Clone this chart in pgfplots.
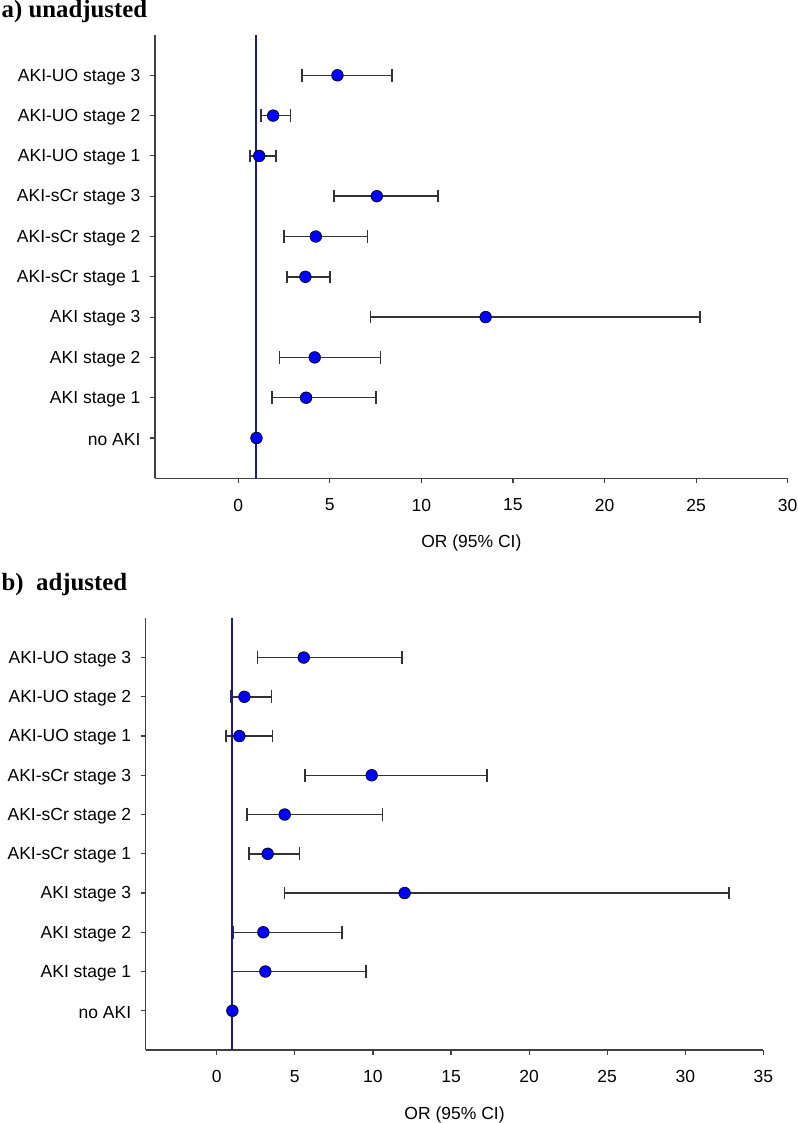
\documentclass[border=0pt]{standalone}
\usepackage{fontspec}
\setmainfont{Liberation Sans}
\newfontfamily\titlefont{Liberation Serif}
\usepackage{pgfplots}
\pgfplotsset{compat=1.18}
\usepackage{pgfplotstable}

\definecolor{refline}{RGB}{25,25,160}
\definecolor{dotblue}{RGB}{0,0,255}
\definecolor{axgray}{RGB}{64,64,64}
\definecolor{errgray}{RGB}{50,50,50}

% pos: row (1 = no AKI ... 10 = AKI-UO stage 3), or: odds ratio, lo/hi: 95% CI
\pgfplotstableread{
pos or lo hi
10 5.42 3.49 8.40
9 1.91 1.24 2.86
8 1.15 0.64 2.07
7 7.57 5.24 10.91
6 4.24 2.51 7.06
5 3.67 2.66 5.02
4 13.51 7.23 25.20
3 4.18 2.26 7.76
2 3.71 1.86 7.52
1 1.00 1.00 1.00
}\unadj

\pgfplotstableread{
pos or lo hi
10 5.57 2.60 11.86
9 1.77 0.92 3.50
8 1.45 0.60 3.56
7 9.92 5.65 17.30
6 4.35 1.92 10.60
5 3.26 2.05 5.31
4 12.03 4.35 32.80
3 2.98 1.06 8.02
2 3.11 1.00 9.56
1 1.00 1.00 1.00
}\adj

\pgfplotsset{forest/.style={
  scale only axis,
  axis x line*=bottom, axis y line*=left,
  ymin=0, ymax=11,
  ytick={1,...,10},
  yticklabels={no AKI, AKI stage 1, AKI stage 2, AKI stage 3, AKI-sCr stage 1, AKI-sCr stage 2, AKI-sCr stage 3, AKI-UO stage 1, AKI-UO stage 2, AKI-UO stage 3},
  xtick={0,5,...,35},
  tick align=outside,
  major tick length=5pt,
  tick style={axgray, line width=1.2pt},
  axis line style={axgray, line width=1.2pt, -},
  /pgf/number format/assume math mode=true,
  ticklabel style={font=\fontsize{17.5}{20}\selectfont},
  yticklabel style={yshift=-1.5pt, xshift=-6pt},
  xticklabel style={yshift=-12pt},
  xlabel={OR (95\% CI)},
  xlabel style={font=\fontsize{17.5}{20}\selectfont, at={(axis description cs:0.5,0)}, anchor=base, yshift=-69pt},
  clip=false,
}}
\pgfplotsset{errbars/.style={forget plot, draw=none, mark=none,
  error bars/.cd, x dir=both, x explicit, error mark=|,
  error bar style={line width=1.5pt, color=errgray},
  error mark options={line width=1.5pt, mark size=6.3pt, color=errgray}}}
\pgfplotsset{dots/.style={only marks, mark=*, mark size=5.8pt,
  mark options={fill=dotblue, draw=black, line width=0.7pt}}}

\begin{document}
\begin{tikzpicture}
\useasboundingbox (0pt,0pt) rectangle (797pt,-1123pt);

\node[anchor=base west, inner sep=0pt, font=\titlefont\bfseries\fontsize{24.8}{28}\selectfont] at (1.5pt,-17.5pt) {a) unadjusted};
\node[anchor=base west, inner sep=0pt, font=\titlefont\bfseries\fontsize{24.8}{28}\selectfont] at (1.5pt,-590pt) {b)\ \ adjusted};

\begin{axis}[forest, at={(155pt,-478.3pt)}, anchor=south west,
  width=632.7pt, height=443.3pt, xmin=-4.54, xmax=30]
\addplot[skip coords between index={9}{10}, errbars]
  table[x=or, y=pos, x error plus expr=\thisrow{hi}-\thisrow{or}, x error minus expr=\thisrow{or}-\thisrow{lo}] {\unadj};
\addplot[refline, line width=2pt, forget plot] coordinates {(1,0) (1,11)};
\addplot[dots] table[x=or, y=pos] {\unadj};
\end{axis}

\begin{axis}[forest, at={(145.7pt,-1050pt)}, anchor=south west,
  width=617.7pt, height=431.7pt, xmin=-4.55, xmax=35]
\addplot[skip coords between index={9}{10}, errbars]
  table[x=or, y=pos, x error plus expr=\thisrow{hi}-\thisrow{or}, x error minus expr=\thisrow{or}-\thisrow{lo}] {\adj};
\addplot[refline, line width=2pt, forget plot] coordinates {(1,0) (1,11)};
\addplot[dots] table[x=or, y=pos] {\adj};
\end{axis}
\end{tikzpicture}
\end{document}
